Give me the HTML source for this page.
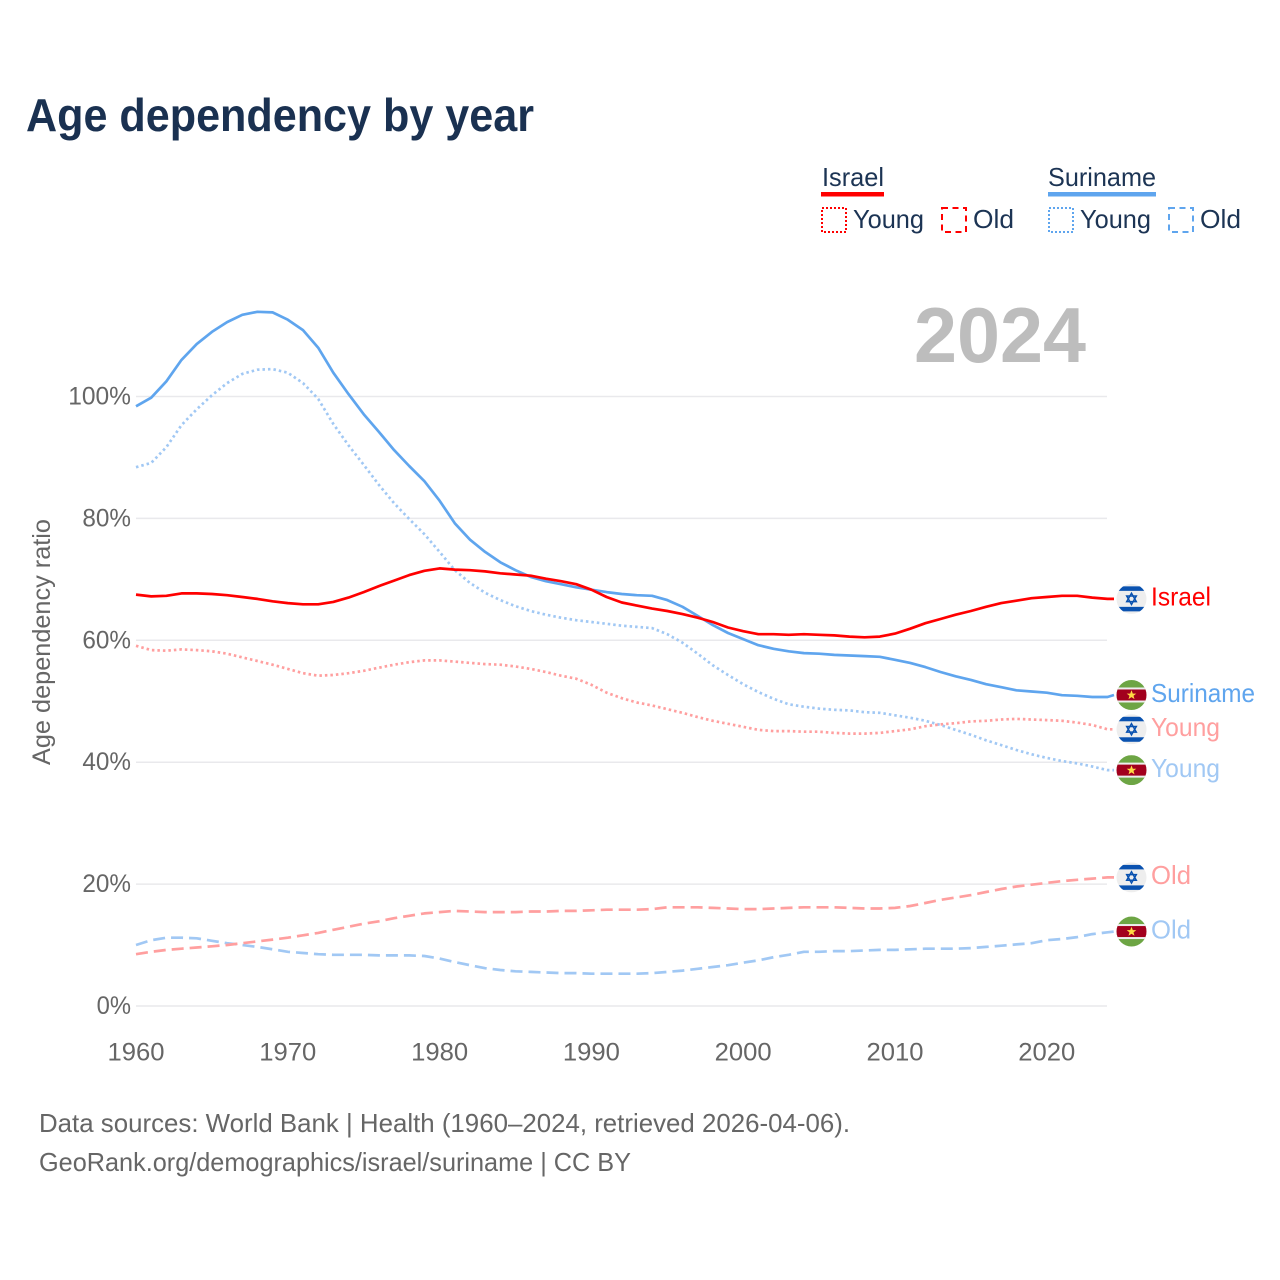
<!DOCTYPE html>
<html lang="en">
<head>
<meta charset="utf-8">
<title>Age dependency by year</title>
<style>
  html, body { margin: 0; padding: 0; background: #fff; }
  svg { display: block; font-family: "Liberation Sans", sans-serif; }
</style>
</head>
<body>
<svg id="chart" xmlns="http://www.w3.org/2000/svg" width="1280" height="1280" viewBox="0 0 1280 1280">
  <defs>
    <clipPath id="flag-clip"><circle cx="0" cy="0" r="15"/></clipPath>
    <g id="flag-israel" clip-path="url(#flag-clip)">
      <rect x="-15" y="-15" width="30" height="30" fill="#eeeeee"/>
      <rect x="-15" y="-12.5" width="30" height="4.5" fill="#0a52b0"/>
      <rect x="-15" y="8" width="30" height="4.5" fill="#0a52b0"/>
      <polygon points="0,-5.6 4.8,2.8 -4.8,2.8" fill="none" stroke="#0a52b0" stroke-width="1.5"/>
      <polygon points="0,5.6 4.8,-2.8 -4.8,-2.8" fill="none" stroke="#0a52b0" stroke-width="1.5"/>
    </g>
    <g id="flag-suriname" clip-path="url(#flag-clip)">
      <rect x="-15" y="-15" width="30" height="30" fill="#6da544"/>
      <rect x="-15" y="-7.5" width="30" height="15" fill="#eeeeee"/>
      <rect x="-15" y="-5.5" width="30" height="11" fill="#a2001d"/>
      <polygon points="0,-4.8 1.3,-1.4 4.8,-1.4 2,0.8 3,4.2 0,2.2 -3,4.2 -2,0.8 -4.8,-1.4 -1.3,-1.4" fill="#ffda44"/>
    </g>
  </defs>

  <rect x="0" y="0" width="1280" height="1280" fill="#ffffff"/>

  <text x="26" y="131" font-size="46" font-weight="700" fill="#1a3151" textLength="508" lengthAdjust="spacingAndGlyphs">Age dependency by year</text>

  <g font-size="26" fill="#1c3454">
    <text x="822" y="186" textLength="62" lengthAdjust="spacingAndGlyphs">Israel</text>
    <rect x="821" y="192" width="63" height="4.5" fill="#ff0000"/>
    <rect x="822" y="208" width="24" height="24" fill="none" stroke="#ff0000" stroke-width="2" stroke-dasharray="2 2"/>
    <text x="853" y="228" textLength="71" lengthAdjust="spacingAndGlyphs">Young</text>
    <rect x="942" y="208" width="24" height="24" fill="none" stroke="#ff0000" stroke-width="2" stroke-dasharray="6 4.5"/>
    <text x="973" y="228" textLength="41" lengthAdjust="spacingAndGlyphs">Old</text>

    <text x="1048" y="186" textLength="108" lengthAdjust="spacingAndGlyphs">Suriname</text>
    <rect x="1048" y="192" width="108" height="4.5" fill="#5fa5ee"/>
    <rect x="1049" y="208" width="24" height="24" fill="none" stroke="#5fa5ee" stroke-width="2" stroke-dasharray="2 2"/>
    <text x="1080" y="228" textLength="71" lengthAdjust="spacingAndGlyphs">Young</text>
    <rect x="1169" y="208" width="24" height="24" fill="none" stroke="#5fa5ee" stroke-width="2" stroke-dasharray="6 4.5"/>
    <text x="1200" y="228" textLength="41" lengthAdjust="spacingAndGlyphs">Old</text>
  </g>

  <text x="914" y="362" font-size="78" font-weight="700" fill="#bdbdbd" textLength="172" lengthAdjust="spacingAndGlyphs">2024</text>

  <g id="grid"></g>
  <g id="y-axis" font-size="25" fill="#666666" text-anchor="end"></g>
  <g id="x-axis" font-size="25" fill="#666666" text-anchor="middle"></g>

  <text transform="translate(50,642) rotate(-90)" font-size="25" fill="#666666" text-anchor="middle" textLength="246" lengthAdjust="spacingAndGlyphs">Age dependency ratio</text>

  <g id="series"></g>
  <g id="end-labels" font-size="26"></g>

  <text x="39" y="1132" font-size="26" fill="#666666" textLength="811" lengthAdjust="spacingAndGlyphs">Data sources: World Bank | Health (1960–2024, retrieved 2026-04-06).</text>
  <text x="39" y="1171" font-size="26" fill="#666666" textLength="592" lengthAdjust="spacingAndGlyphs">GeoRank.org/demographics/israel/suriname | CC BY</text>

<script>
var years = [1960,1961,1962,1963,1964,1965,1966,1967,1968,1969,1970,1971,1972,1973,1974,1975,1976,1977,1978,1979,1980,1981,1982,1983,1984,1985,1986,1987,1988,1989,1990,1991,1992,1993,1994,1995,1996,1997,1998,1999,2000,2001,2002,2003,2004,2005,2006,2007,2008,2009,2010,2011,2012,2013,2014,2015,2016,2017,2018,2019,2020,2021,2022,2023,2024];

var surinameTotal = [98.4,99.8,102.5,106.0,108.6,110.6,112.2,113.4,113.9,113.8,112.6,110.9,108.0,103.9,100.4,97.1,94.2,91.2,88.6,86.1,82.9,79.2,76.5,74.5,72.8,71.5,70.4,69.7,69.2,68.7,68.3,67.9,67.6,67.4,67.3,66.6,65.5,64.0,62.5,61.2,60.2,59.2,58.6,58.2,57.9,57.8,57.6,57.5,57.4,57.3,56.8,56.3,55.6,54.8,54.1,53.5,52.8,52.3,51.8,51.6,51.4,51.0,50.9,50.7,50.7];
var surinameYoung = [88.4,89.1,91.7,95.3,97.9,100.2,102.2,103.7,104.4,104.5,103.9,102.2,99.6,95.5,92.0,88.8,85.5,82.5,79.9,77.4,74.5,71.5,69.4,67.8,66.6,65.6,64.8,64.2,63.7,63.3,63.0,62.7,62.4,62.2,62.0,61.0,59.6,57.8,55.9,54.3,52.8,51.5,50.4,49.5,49.1,48.8,48.6,48.5,48.2,48.1,47.7,47.3,46.8,46.1,45.3,44.5,43.6,42.8,42.0,41.3,40.7,40.2,39.8,39.3,38.7];
var surinameOld = [10.0,10.8,11.2,11.2,11.1,10.7,10.3,10.0,9.7,9.3,8.9,8.7,8.5,8.4,8.4,8.4,8.3,8.3,8.3,8.2,7.8,7.2,6.7,6.2,5.9,5.7,5.6,5.5,5.4,5.4,5.3,5.3,5.3,5.3,5.4,5.6,5.8,6.1,6.4,6.7,7.1,7.5,8.0,8.4,8.9,8.9,9.0,9.0,9.1,9.2,9.2,9.3,9.4,9.4,9.4,9.5,9.7,9.9,10.1,10.3,10.8,11.0,11.3,11.8,12.1];
var israelTotal = [67.5,67.2,67.3,67.7,67.7,67.6,67.4,67.1,66.8,66.4,66.1,65.9,65.9,66.3,67.0,67.9,68.9,69.8,70.7,71.4,71.8,71.6,71.5,71.3,71.0,70.8,70.6,70.1,69.7,69.2,68.3,67.1,66.2,65.7,65.2,64.8,64.3,63.7,63.0,62.1,61.5,61.0,61.0,60.9,61.0,60.9,60.8,60.6,60.5,60.6,61.1,61.9,62.8,63.5,64.2,64.8,65.5,66.1,66.5,66.9,67.1,67.3,67.3,67.0,66.8];
var israelYoung = [59.1,58.4,58.3,58.5,58.4,58.2,57.8,57.2,56.6,56.0,55.3,54.6,54.2,54.3,54.6,55.0,55.5,56.0,56.4,56.7,56.7,56.5,56.3,56.1,56.0,55.7,55.3,54.8,54.2,53.7,52.7,51.4,50.5,49.8,49.3,48.7,48.1,47.4,46.8,46.3,45.8,45.3,45.1,45.1,45.0,45.0,44.8,44.7,44.7,44.8,45.1,45.4,45.9,46.2,46.4,46.7,46.8,47.0,47.1,47.0,46.9,46.8,46.5,46.1,45.4];
var israelOld = [8.5,8.9,9.2,9.4,9.6,9.8,10.0,10.3,10.6,10.9,11.2,11.6,12.0,12.5,13.0,13.5,13.9,14.4,14.8,15.2,15.4,15.6,15.5,15.4,15.4,15.4,15.5,15.5,15.6,15.6,15.7,15.8,15.8,15.8,15.9,16.2,16.2,16.2,16.1,16.0,15.9,15.9,16.0,16.1,16.2,16.2,16.2,16.1,16.0,16.0,16.1,16.4,16.9,17.4,17.8,18.2,18.7,19.2,19.6,19.9,20.2,20.5,20.7,20.9,21.1];

var yTickValues = [0,20,40,60,80,100];
var yTickLabels = ["0%","20%","40%","60%","80%","100%"];
var xTickValues = [1960,1970,1980,1990,2000,2010,2020];
var xTickLabels = ["1960","1970","1980","1990","2000","2010","2020"];

var svgNS = "http://www.w3.org/2000/svg";

function xScale(year) { return 136 + (year - 1960) * 15.18; }
function yScale(value) { return 1006 - value * 6.095; }

function make(tag, parent, attrs) {
  var el = document.createElementNS(svgNS, tag);
  for (var k in attrs) { el.setAttribute(k, attrs[k]); }
  parent.appendChild(el);
  return el;
}

var gridGroup = document.getElementById("grid");
var yAxisGroup = document.getElementById("y-axis");
var xAxisGroup = document.getElementById("x-axis");

yTickValues.forEach(function (v, i) {
  var line = make("line", gridGroup, { x1: 136, x2: 1107, y1: yScale(v), y2: yScale(v), stroke: "#e9e9ec", "stroke-width": 1.5 });
  
  
  var label = make("text", yAxisGroup, { x: 131, y: yScale(v) + 8 });
  
  
  label.setAttribute('textLength', yTickLabels[i].length * 14.2 + 6);
  label.setAttribute('lengthAdjust', 'spacingAndGlyphs');
  label.textContent = yTickLabels[i];
});

xTickValues.forEach(function (v, i) {
  var label = make("text", xAxisGroup, { x: xScale(v), y: 1060.5 });
  
  
  label.setAttribute('textLength', 57);
  label.setAttribute('lengthAdjust', 'spacingAndGlyphs');
  label.textContent = xTickLabels[i];
});

var DOTTED = "2.5 3";
var DASHED = "12 6";

/* Drawn back-to-front. labelShift nudges an end label off the last data value. */
var lines = [
  { name: "suriname-old",   values: surinameOld,   color: "#a1c8f4", dash: DASHED, text: "Old",      flag: "flag-suriname", labelShift: 0.7, width: 40 },
  { name: "israel-old",     values: israelOld,     color: "#ff9f9f", dash: DASHED, text: "Old",      flag: "flag-israel",   labelShift: 0,   width: 40 },
  { name: "suriname-young", values: surinameYoung, color: "#a1c8f4", dash: DOTTED, text: "Young",    flag: "flag-suriname", labelShift: 0,   width: 69 },
  { name: "israel-young",   values: israelYoung,   color: "#ff9f9f", dash: DOTTED, text: "Young",    flag: "flag-israel",   labelShift: 0,   width: 69 },
  { name: "suriname-total", values: surinameTotal, color: "#5fa5ee", dash: "",     text: "Suriname", flag: "flag-suriname", labelShift: 2,   width: 104 },
  { name: "israel-total",   values: israelTotal,   color: "#ff0000", dash: "",     text: "Israel",   flag: "flag-israel",   labelShift: 0,   width: 60 }
];

var seriesGroup = document.getElementById("series");
var labelGroup = document.getElementById("end-labels");

lines.forEach(function (s) {
  var d = s.values.map(function (v, i) {
    return (i ? "L" : "M") + xScale(years[i]).toFixed(1) + " " + yScale(v).toFixed(1);
  }).join(" ");
  var lastValue = s.values[s.values.length - 1];
  var lastY = yScale(lastValue);
  var flagY = lastY - s.labelShift;
  d += " L1114 " + flagY.toFixed(1);

  var path = make("path", seriesGroup, { d: d, fill: "none", stroke: s.color, "stroke-width": 2.7, "stroke-linejoin": "round" });
  if (s.dash) { path.setAttribute("stroke-dasharray", s.dash); }
  
  

  var flag = make("use", labelGroup, { href: "#" + s.flag, x: 1131.5, y: flagY });
  
  

  var label = make("text", labelGroup, { x: 1151, y: flagY + 6.8, fill: s.color });
  
  
  label.setAttribute('textLength', s.width);
  label.setAttribute('lengthAdjust', 'spacingAndGlyphs');
  label.textContent = s.text;
});
</script>
</svg>
</body>
</html>
